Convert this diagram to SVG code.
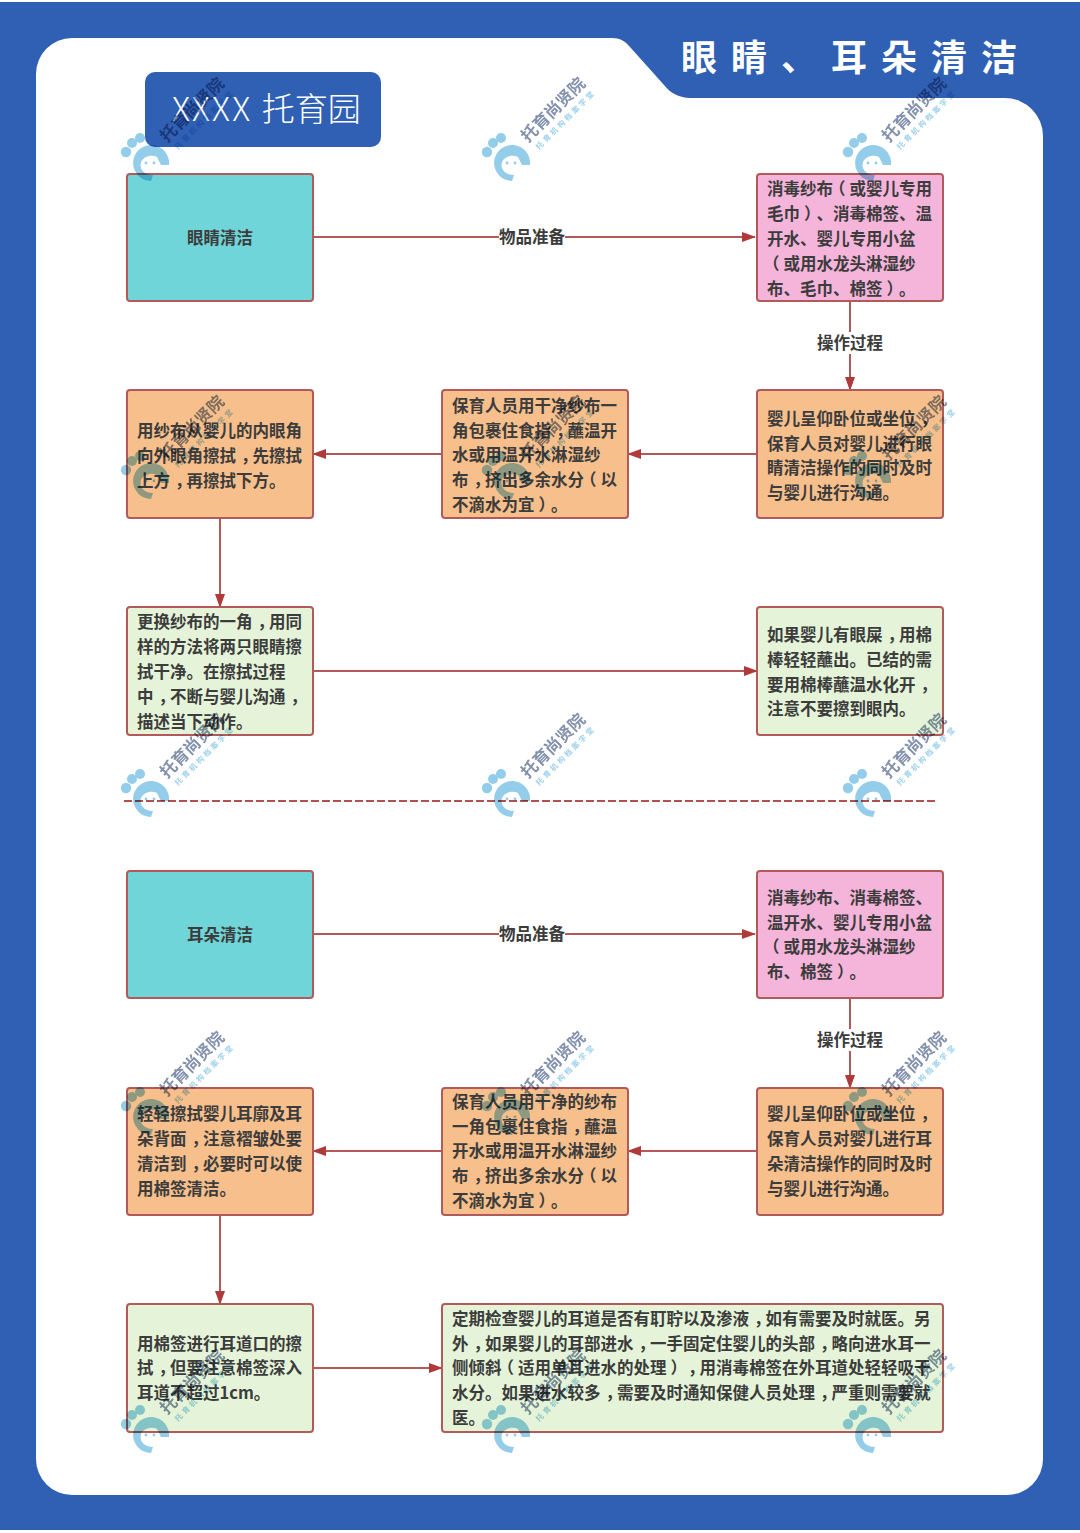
<svg xmlns="http://www.w3.org/2000/svg" width="1080" height="1533" viewBox="0 0 1080 1533">
<style>
text{font-family:"Noto Sans CJK SC","Noto Sans",sans-serif;text-spacing-trim:space-all}
.box{stroke:#b25a5a;stroke-width:2}
.cy{fill:#6fd5d8}.pk{fill:#f5b5da}.or{fill:#f6bf8c}.gr{fill:#e5f4d9}
.t{font-size:16.5px;font-weight:700;fill:#3c3c3c}
.m{text-anchor:middle}
.c{stroke:#b25a5a;stroke-width:2;fill:none}
.lb{font-size:16.5px;font-weight:700;fill:#3c3c3c;text-anchor:middle}
.w1{font-size:16.5px;font-weight:700;fill:#8391ac}
.w2{font-size:7.5px;font-weight:700;fill:#9fd2ec}
#watermarks{mix-blend-mode:multiply}
</style>
<defs>
<marker id="a" markerWidth="14" markerHeight="10" refX="13" refY="5" orient="auto" markerUnits="userSpaceOnUse"><path d="M0 0L14 5L0 10Z" fill="#b03a3a"/></marker>
<g id="wm">
<circle cx="-21" cy="-8" r="5.2" fill="#93cdea"/>
<circle cx="-15" cy="-17" r="5" fill="#93cdea"/>
<circle cx="-7" cy="-22" r="5" fill="#93cdea"/>
<path d="M22 5A18 18 0 1 0 4 21L6 15C-4 15-8 8-6 2C-4-3 4-6 10-3L14 5Z" fill="#93cdea"/>
<circle cx="-1" cy="3" r="1.4" fill="#93cdea"/><circle cx="7" cy="3" r="1.4" fill="#93cdea"/>
<text class="w1" transform="translate(20 -17) rotate(-45)">托育尚贤院</text>
<text class="w2" transform="translate(31 -10) rotate(-45)" letter-spacing="2.6">托育机构档案学堂</text>
</g>
</defs>
<rect x="0" y="2" width="1080" height="1528" fill="#3060b4"/>
<path d="M72 38H612C620 38 625 41 630 47L664 85C670 93 680 98 690 98H1005A38 38 0 0 1 1043 136V1459A36 36 0 0 1 1007 1495H72A36 36 0 0 1 36 1459V74A36 36 0 0 1 72 38Z" fill="#fff"/>
<text x="681" y="71" font-size="36" font-weight="700" fill="#fff" letter-spacing="14">眼睛、耳朵清洁</text>
<g id="kindergarten"><rect x="145" y="72" width="236" height="75" rx="10" fill="#3060b4"/><text x="172" y="121" font-size="33" font-weight="300" fill="#fff"><tspan letter-spacing="2.2">XXXX </tspan>托育园</text></g>
<g id="connectors">
<path class="c" d="M313 237H755" marker-end="url(#a)"/>
<path class="c" d="M850 301V390" marker-end="url(#a)"/>
<path class="c" d="M757 454H628" marker-end="url(#a)"/>
<path class="c" d="M442 454H313" marker-end="url(#a)"/>
<path class="c" d="M220 518V607" marker-end="url(#a)"/>
<path class="c" d="M313 671H757" marker-end="url(#a)"/>
<path class="c" d="M313 934H755" marker-end="url(#a)"/>
<path class="c" d="M850 998V1088" marker-end="url(#a)"/>
<path class="c" d="M757 1151H628" marker-end="url(#a)"/>
<path class="c" d="M442 1151H313" marker-end="url(#a)"/>
<path class="c" d="M220 1215V1304" marker-end="url(#a)"/>
<path class="c" d="M313 1368H442" marker-end="url(#a)"/>
<rect x="499" y="226" width="66" height="22" fill="#fff"/><text class="lb" x="532" y="243">物品准备</text>
<rect x="817" y="332" width="66" height="22" fill="#fff"/><text class="lb" x="850" y="349">操作过程</text>
<rect x="499" y="923" width="66" height="22" fill="#fff"/><text class="lb" x="532" y="940">物品准备</text>
<rect x="817" y="1029" width="66" height="22" fill="#fff"/><text class="lb" x="850" y="1046">操作过程</text>
</g>
<path id="divider" d="M124 801H935" stroke="#b24f4f" stroke-width="2" stroke-dasharray="8 3" fill="none"/>
<g id="n1"><rect class="box cy" x="127" y="174" width="186" height="127" rx="3"/><text class="t m" x="220" y="244">眼睛清洁</text></g>
<g id="n2"><rect class="box pk" x="757" y="174" width="186" height="127" rx="3"/><text class="t"><tspan x="767" y="195">消毒纱布<tspan dx="-4">（</tspan><tspan dx="4">或婴儿专用</tspan></tspan><tspan x="767" y="220">毛巾<tspan dx="4">）</tspan><tspan dx="-4">、消毒棉签、温</tspan></tspan><tspan x="767" y="245">开水、婴儿专用小盆</tspan><tspan x="763" y="270">（<tspan dx="4">或用水龙头淋湿纱</tspan></tspan><tspan x="767" y="295">布、毛巾、棉签<tspan dx="4">）</tspan><tspan dx="-4">。</tspan></tspan></text></g>
<g id="n3"><rect class="box or" x="757" y="390" width="186" height="128" rx="3"/><text class="t"><tspan x="767" y="425">婴儿呈仰卧位或坐位<tspan dx="5">，</tspan></tspan><tspan x="767" y="450">保育人员对婴儿进行眼</tspan><tspan x="767" y="474">睛清洁操作的同时及时</tspan><tspan x="767" y="499">与婴儿进行沟通。</tspan></text></g>
<g id="n4"><rect class="box or" x="442" y="390" width="186" height="128" rx="3"/><text class="t"><tspan x="452" y="412">保育人员用干净纱布一</tspan><tspan x="452" y="437">角包裹住食指<tspan dx="5">，</tspan><tspan dx="-5">蘸温开</tspan></tspan><tspan x="452" y="461">水或用温开水淋湿纱</tspan><tspan x="452" y="486">布<tspan dx="5">，</tspan><tspan dx="-5">挤出多余水分</tspan><tspan dx="-4">（</tspan><tspan dx="4">以</tspan></tspan><tspan x="452" y="511">不滴水为宜<tspan dx="4">）</tspan><tspan dx="-4">。</tspan></tspan></text></g>
<g id="n5"><rect class="box or" x="127" y="390" width="186" height="128" rx="3"/><text class="t"><tspan x="137" y="437">用纱布从婴儿的内眼角</tspan><tspan x="137" y="462">向外眼角擦拭<tspan dx="5">，</tspan><tspan dx="-5">先擦拭</tspan></tspan><tspan x="137" y="487">上方<tspan dx="5">，</tspan><tspan dx="-5">再擦拭下方。</tspan></tspan></text></g>
<g id="n6"><rect class="box gr" x="127" y="607" width="186" height="128" rx="3"/><text class="t"><tspan x="137" y="628">更换纱布的一角<tspan dx="5">，</tspan><tspan dx="-5">用同</tspan></tspan><tspan x="137" y="653">样的方法将两只眼睛擦</tspan><tspan x="137" y="678">拭干净。在擦拭过程</tspan><tspan x="137" y="703">中<tspan dx="5">，</tspan><tspan dx="-5">不断与婴儿沟通</tspan><tspan dx="5">，</tspan></tspan><tspan x="137" y="728">描述当下动作。</tspan></text></g>
<g id="n7"><rect class="box gr" x="757" y="607" width="186" height="128" rx="3"/><text class="t"><tspan x="767" y="641">如果婴儿有眼屎<tspan dx="5">，</tspan><tspan dx="-5">用棉</tspan></tspan><tspan x="767" y="666">棒轻轻蘸出。已结的需</tspan><tspan x="767" y="691">要用棉棒蘸温水化开<tspan dx="5">，</tspan></tspan><tspan x="767" y="715">注意不要擦到眼内。</tspan></text></g>
<g id="n8"><rect class="box cy" x="127" y="871" width="186" height="127" rx="3"/><text class="t m" x="220" y="941">耳朵清洁</text></g>
<g id="n9"><rect class="box pk" x="757" y="871" width="186" height="127" rx="3"/><text class="t"><tspan x="767" y="904">消毒纱布、消毒棉签、</tspan><tspan x="767" y="929">温开水、婴儿专用小盆</tspan><tspan x="763" y="953">（<tspan dx="4">或用水龙头淋湿纱</tspan></tspan><tspan x="767" y="978">布、棉签<tspan dx="4">）</tspan><tspan dx="-4">。</tspan></tspan></text></g>
<g id="n10"><rect class="box or" x="757" y="1088" width="186" height="127" rx="3"/><text class="t"><tspan x="767" y="1120">婴儿呈仰卧位或坐位<tspan dx="5">，</tspan></tspan><tspan x="767" y="1145">保育人员对婴儿进行耳</tspan><tspan x="767" y="1170">朵清洁操作的同时及时</tspan><tspan x="767" y="1195">与婴儿进行沟通。</tspan></text></g>
<g id="n11"><rect class="box or" x="442" y="1088" width="186" height="127" rx="3"/><text class="t"><tspan x="452" y="1108">保育人员用干净的纱布</tspan><tspan x="452" y="1133">一角包裹住食指<tspan dx="5">，</tspan><tspan dx="-5">蘸温</tspan></tspan><tspan x="452" y="1157">开水或用温开水淋湿纱</tspan><tspan x="452" y="1182">布<tspan dx="5">，</tspan><tspan dx="-5">挤出多余水分</tspan><tspan dx="-4">（</tspan><tspan dx="4">以</tspan></tspan><tspan x="452" y="1207">不滴水为宜<tspan dx="4">）</tspan><tspan dx="-4">。</tspan></tspan></text></g>
<g id="n12"><rect class="box or" x="127" y="1088" width="186" height="127" rx="3"/><text class="t"><tspan x="137" y="1120">轻轻擦拭婴儿耳廓及耳</tspan><tspan x="137" y="1145">朵背面<tspan dx="5">，</tspan><tspan dx="-5">注意褶皱处要</tspan></tspan><tspan x="137" y="1170">清洁到<tspan dx="5">，</tspan><tspan dx="-5">必要时可以使</tspan></tspan><tspan x="137" y="1195">用棉签清洁。</tspan></text></g>
<g id="n13"><rect class="box gr" x="127" y="1304" width="186" height="128" rx="3"/><text class="t"><tspan x="137" y="1350">用棉签进行耳道口的擦</tspan><tspan x="137" y="1374">拭<tspan dx="5">，</tspan><tspan dx="-5">但要注意棉签深入</tspan></tspan><tspan x="137" y="1399">耳道不超过1cm。</tspan></text></g>
<g id="n14"><rect class="box gr" x="442" y="1304" width="501" height="128" rx="3"/><text class="t"><tspan x="452" y="1325">定期检查婴儿的耳道是否有耵聍以及渗液<tspan dx="5">，</tspan><tspan dx="-5">如有需要及时就医。另</tspan></tspan><tspan x="452" y="1350">外<tspan dx="5">，</tspan><tspan dx="-5">如果婴儿的耳部进水</tspan><tspan dx="5">，</tspan><tspan dx="-5">一手固定住婴儿的头部</tspan><tspan dx="5">，</tspan><tspan dx="-5">略向进水耳一</tspan></tspan><tspan x="452" y="1374">侧倾斜<tspan dx="-4">（</tspan><tspan dx="4">适用单耳进水的处理</tspan><tspan dx="4">）</tspan><tspan dx="1">，</tspan><tspan dx="-5">用消毒棉签在外耳道处轻轻吸干</tspan></tspan><tspan x="452" y="1399">水分。如果进水较多<tspan dx="5">，</tspan><tspan dx="-5">需要及时通知保健人员处理</tspan><tspan dx="5">，</tspan><tspan dx="-5">严重则需要就</tspan></tspan><tspan x="452" y="1424">医。</tspan></text></g>
<g id="watermarks">
<use href="#wm" x="147" y="160"/><use href="#wm" x="508" y="160"/><use href="#wm" x="869" y="160"/>
<use href="#wm" x="147" y="478"/><use href="#wm" x="508" y="478"/><use href="#wm" x="869" y="478"/>
<use href="#wm" x="147" y="796"/><use href="#wm" x="508" y="796"/><use href="#wm" x="869" y="796"/>
<use href="#wm" x="147" y="1114"/><use href="#wm" x="508" y="1114"/><use href="#wm" x="869" y="1114"/>
<use href="#wm" x="147" y="1432"/><use href="#wm" x="508" y="1432"/><use href="#wm" x="869" y="1432"/>
</g>
</svg>
